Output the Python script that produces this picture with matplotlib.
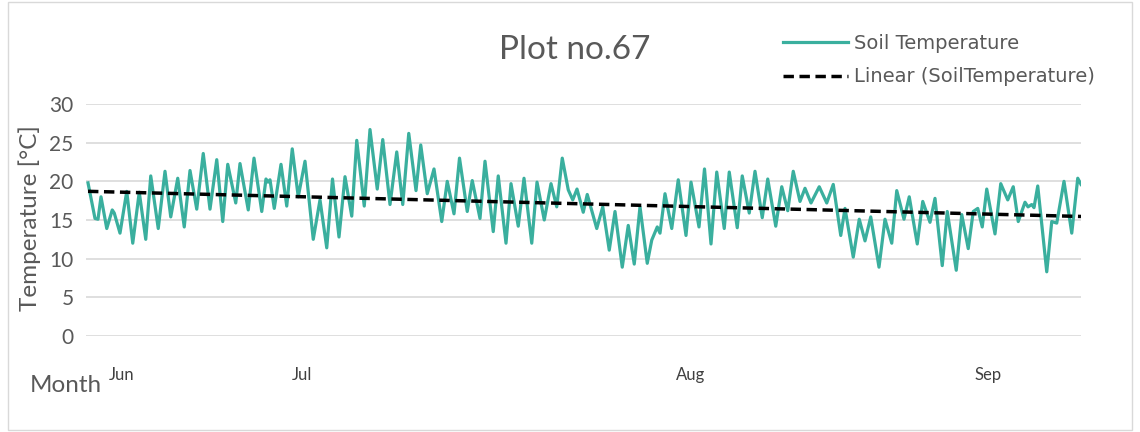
import numpy as np
import matplotlib
matplotlib.use("Agg")
import matplotlib.pyplot as plt
from matplotlib.patches import Rectangle

plt.rcParams['font.family'] = ['Lato', 'DejaVu Sans']

# readings (day offset from first reading, soil temperature in °C)
days = [0.0, 0.56, 0.8, 1.04, 1.5, 1.94, 2.1, 2.56, 3.1, 3.58, 4.1, 4.62, 5.02, 5.62,
        6.16, 6.62, 7.18, 7.7, 8.16, 8.7, 9.22, 9.76, 10.3, 10.78, 11.18, 11.82, 12.16,
        12.82, 13.28, 13.9, 14.24, 14.4, 14.56, 14.9, 15.44, 15.9, 16.34, 16.82, 17.36,
        18.02, 18.56, 19.1, 19.56, 20.08, 20.56, 21.1, 21.5, 22.1, 22.56, 23.14, 23.58,
        24.16, 24.7, 25.18, 25.66, 26.24, 26.62, 27.14, 27.68, 28.3, 28.74, 29.28, 29.72,
        30.34, 30.74, 31.36, 31.76, 32.42, 32.82, 33.44, 33.84, 34.42, 34.88, 35.5, 35.92,
        36.5, 37.04, 37.5, 37.94, 38.42, 38.78, 39.12, 39.62, 39.94, 40.7, 41.18, 41.7,
        42.16, 42.74, 43.22, 43.7, 44.16, 44.74, 45.1, 45.54, 45.76, 46.16, 46.7, 47.22,
        47.84, 48.24, 48.88, 49.32, 49.84, 50.3, 50.9, 51.3, 51.94, 52.34, 52.9, 53.36,
        53.94, 54.38, 55.02, 55.5, 55.98, 56.42, 56.96, 57.36, 57.84, 58.5, 59.1, 59.62,
        60.22, 60.56, 61.22, 61.7, 62.16, 62.62, 63.28, 63.76, 64.3, 64.7, 65.28, 65.7,
        66.34, 66.78, 67.36, 67.76, 68.34, 68.74, 69.46, 69.9, 70.42, 70.82, 71.18, 71.54,
        71.9, 72.56, 73.02, 73.58, 74.02, 74.42, 74.96, 75.2, 75.5, 75.68, 75.98, 76.7,
        77.1, 77.5, 78.08, 78.7, 79.18, 79.44]
soil_temp = [19.8, 15.2, 15.1, 18.0, 13.9, 16.3, 15.9, 13.3, 18.7, 12.0, 18.6, 12.5, 20.7, 13.9,
             21.3, 15.4, 20.4, 14.1, 21.4, 16.4, 23.6, 16.4, 22.8, 14.8, 22.2, 17.2, 22.3,
             16.3, 23.0, 16.1, 20.3, 19.9, 20.2, 16.5, 22.2, 16.8, 24.2, 18.0, 22.6,
             12.5, 17.6, 11.4, 20.3, 12.8, 20.6, 15.5, 25.3, 16.8, 26.7, 19.0, 25.4,
             17.0, 23.8, 17.0, 26.2, 18.8, 24.7, 18.4, 21.6, 14.8, 20.0, 15.8, 23.0,
             16.1, 20.1, 15.2, 22.6, 13.5, 20.7, 12.0, 19.7, 14.2, 20.4, 12.0, 19.9,
             15.0, 19.7, 16.7, 23.0, 18.9, 17.6, 19.0, 16.0, 18.3, 13.9, 16.7, 11.1,
             16.1, 8.9, 14.3, 9.3, 16.7, 9.4, 12.4, 14.1, 13.3, 18.4, 13.9, 20.2,
             13.0, 19.9, 14.1, 21.6, 11.9, 21.2, 13.9, 21.2, 14.0, 20.7, 15.9, 21.3,
             15.3, 20.3, 14.2, 19.3, 16.2, 21.3, 17.4, 19.1, 17.2, 19.3, 17.2, 19.6,
             13.0, 16.5, 10.2, 15.1, 12.3, 15.4, 8.9, 15.1, 12.0, 18.8, 15.1, 18.0,
             11.9, 17.4, 14.7, 17.8, 9.1, 16.1, 8.5, 15.7, 11.3, 16.1, 16.5, 14.1,
             19.0, 13.2, 19.7, 17.6, 19.3, 14.8, 17.3, 16.7, 17.0, 16.6, 19.4, 8.3,
             14.8, 14.6, 20.0, 13.3, 20.4, 19.6]

month_labels = ['Jun', 'Jul', 'Aug', 'Sep']
month_pos = [2.7, 17.1, 48.2, 72.0]

days = np.array(days)
soil_temp = np.array(soil_temp)

# linear trend like excel's trendline
slope, icpt = np.polyfit(days, soil_temp, 1)
trend_x = np.array([days[0], days[-1]])
trend_y = slope * trend_x + icpt

fig = plt.figure(figsize=(11.4, 4.32), dpi=100)
fig.patches.append(Rectangle((8 / 1140, 2 / 432), 1124 / 1140, 428 / 432,
                             transform=fig.transFigure, fill=False,
                             edgecolor='#d9d9d9', linewidth=1))
ax = fig.add_axes([86 / 1140, 1 - 336 / 432, (1081 - 86) / 1140, (336 - 104) / 432])

ax.plot(days, soil_temp, color='#3aaf9e', lw=2.3, label='Soil Temperature', zorder=3)
ax.plot(trend_x, trend_y, color='black', lw=2.5, ls=(0, (3, 1.6)),
        label='Linear (SoilTemperature)', zorder=4)

ax.set_ylim(0, 30)
ax.set_xlim(-0.16, 79.44)
ax.set_yticks(range(0, 31, 5))
ax.yaxis.grid(True, color='#d9d9d9', lw=1.2)
ax.set_axisbelow(True)
for s in ax.spines.values():
    s.set_visible(False)
ax.tick_params(axis='y', length=0, labelsize=15, labelcolor='#595959', pad=9)
ax.set_xticks(month_pos)
ax.set_xticklabels(month_labels)
ax.tick_params(axis='x', length=0, labelsize=12, labelcolor='#404040', pad=22)

fig.text(30 / 1140, 1 - 218 / 432, 'Temperature [°C]', fontsize=17.5, color='#595959',
         rotation=90, ha='center', va='center')
fig.text(30 / 1140, 1 - 386 / 432, 'Month', fontsize=17.5, color='#595959',
         ha='left', va='center')
fig.text(575 / 1140, 1 - 50 / 432, 'Plot no.67', fontsize=24, color='#595959',
         ha='center', va='center')

leg = fig.legend(loc='upper left', bbox_to_anchor=(775 / 1140, 1 - 26 / 432), frameon=False,
                 labelcolor='#595959', handlelength=3.35, handletextpad=0.3,
                 labelspacing=0.75, borderaxespad=0,
                 prop={'family': 'DejaVu Sans', 'size': 14})

fig.savefig('out.png', dpi=100)
